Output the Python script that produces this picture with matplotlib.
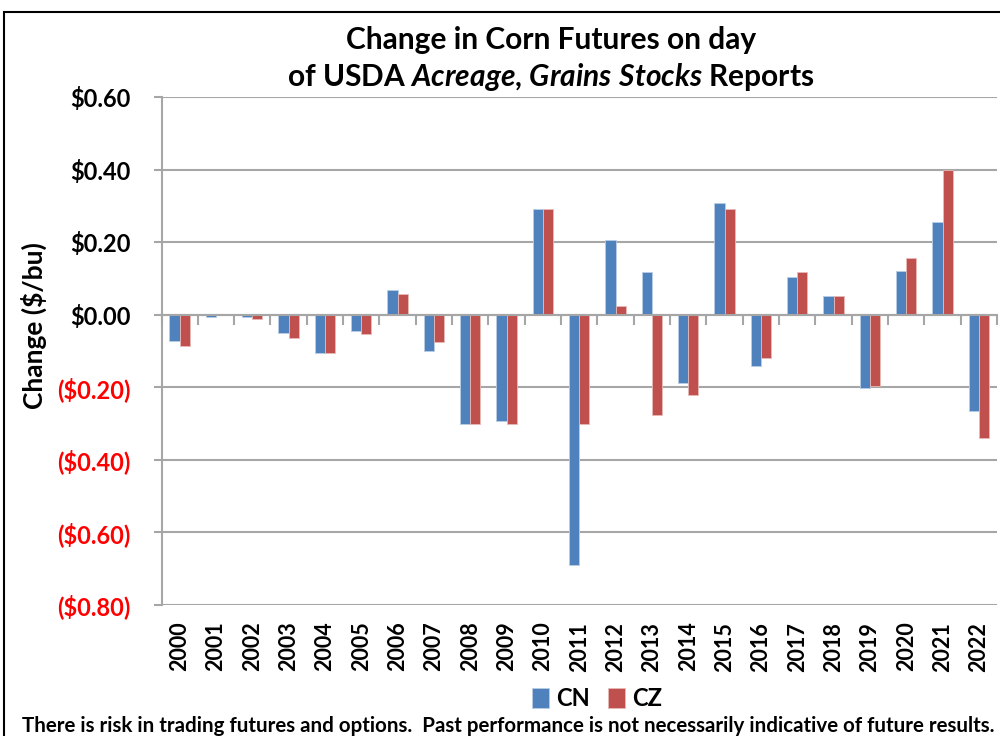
"""Change in corn futures on the day of the USDA Acreage / Grain Stocks reports."""
import matplotlib
matplotlib.use("Agg")
import matplotlib.pyplot as plt
import numpy as np
from matplotlib.patches import Rectangle
from matplotlib.ticker import FixedLocator, FuncFormatter

plt.rcParams["font.family"] = ["Lato", "DejaVu Sans"]
plt.rcParams["mathtext.fontset"] = "custom"
plt.rcParams["mathtext.rm"] = "Lato:bold"
plt.rcParams["mathtext.it"] = "Lato:italic:bold"

years = [str(y) for y in range(2000, 2023)]
cn = [-0.072, -0.005, -0.005, -0.050, -0.105, -0.044, 0.067, -0.100,
      -0.301, -0.293, 0.292, -0.690, 0.205, 0.119, -0.187, 0.308,
      -0.141, 0.105, 0.051, -0.201, 0.121, 0.255, -0.265]
cz = [-0.086, 0.0, -0.011, -0.063, -0.105, -0.053, 0.056, -0.076,
      -0.301, -0.301, 0.293, -0.301, 0.025, -0.275, -0.221, 0.292,
      -0.120, 0.119, 0.051, -0.197, 0.156, 0.400, -0.339]
y_ticks = [0.60, 0.40, 0.20, 0.00, -0.20, -0.40, -0.60, -0.80]

BLUE = "#4F81BD"
RED = "#C0504D"
GRID = "#A6A6A6"

fig = plt.figure(figsize=(10, 7.36), dpi=100)
ax = fig.add_axes([0.1615, 0.178, 0.8355, 0.690])

x = np.arange(len(years))
w = 0.28
ax.bar(x - w / 2, cn, w, color=BLUE, edgecolor="#B9CDE5", linewidth=0.6, label="CN", zorder=3)
ax.bar(x + w / 2, cz, w, color=RED, edgecolor="#E6B9B8", linewidth=0.6, label="CZ", zorder=3)

ax.set_xlim(-0.5, len(years) - 0.5)
ax.set_ylim(-0.80, 0.60)
ax.yaxis.set_major_locator(FixedLocator(y_ticks))
ax.yaxis.set_major_formatter(FuncFormatter(
    lambda v, _: f"${v:.2f}" if v >= -1e-9 else f"(${-v:.2f})"))
ax.grid(axis="y", color=GRID, linewidth=1.5, zorder=0)
ax.tick_params(axis="y", length=6, width=1.5, color=GRID, labelsize=17, pad=16)
for lbl in ax.get_yticklabels():
    lbl.set_fontweight("bold")
    if lbl.get_text().startswith("("):
        lbl.set_color("red")

# x axis line sits at zero, ticks between categories
for s in ("top", "right"):
    ax.spines[s].set_visible(False)
ax.spines["left"].set_color(GRID)
ax.spines["left"].set_linewidth(1.5)
ax.spines["bottom"].set_position(("data", 0))
ax.spines["bottom"].set_color(GRID)
ax.spines["bottom"].set_linewidth(1.5)
ax.spines["bottom"].set_zorder(4)
ax.set_xticks(np.arange(len(years) + 1) - 0.5)
ax.set_xticklabels([])
ax.tick_params(axis="x", length=7, width=1.5, color=GRID)

sec = ax.secondary_xaxis(0)
sec.set_xticks(x)
sec.set_xticklabels(years, rotation=90, fontweight="bold", fontsize=15.5)
sec.tick_params(length=0, pad=12)
sec.spines["bottom"].set_visible(False)

ax.set_ylabel("Change ($/bu)", fontsize=19, fontweight="bold")
ax.yaxis.set_label_coords(-0.137, 0.55)

fig.text(0.551, 0.946, "Change in Corn Futures on day", ha="center", va="center",
         fontsize=21.5, fontweight="bold")
fig.text(0.551, 0.895, r"of USDA $\mathit{Acreage}$, $\mathit{Grains\ Stocks}$ Reports",
         ha="center", va="center", fontsize=21.5, fontweight="bold")

ax.legend(loc="center", bbox_to_anchor=(0.597, 0.051), bbox_transform=fig.transFigure,
          ncol=2, frameon=False, prop={"weight": "bold", "size": 17},
          handlelength=0.7, handleheight=0.9, handletextpad=0.3, columnspacing=0.8)

fig.text(0.508, 0.0136, "There is risk in trading futures and options.  Past performance is "
         "not necessarily indicative of future results.", ha="center", va="center",
         fontsize=14.8, fontweight="bold")

fig.add_artist(Rectangle((0.004, -0.1), 1.2, 1.0837, transform=fig.transFigure,
                         fill=False, edgecolor="black", linewidth=1.5, clip_on=False))

fig.savefig("out.png", dpi=100)
